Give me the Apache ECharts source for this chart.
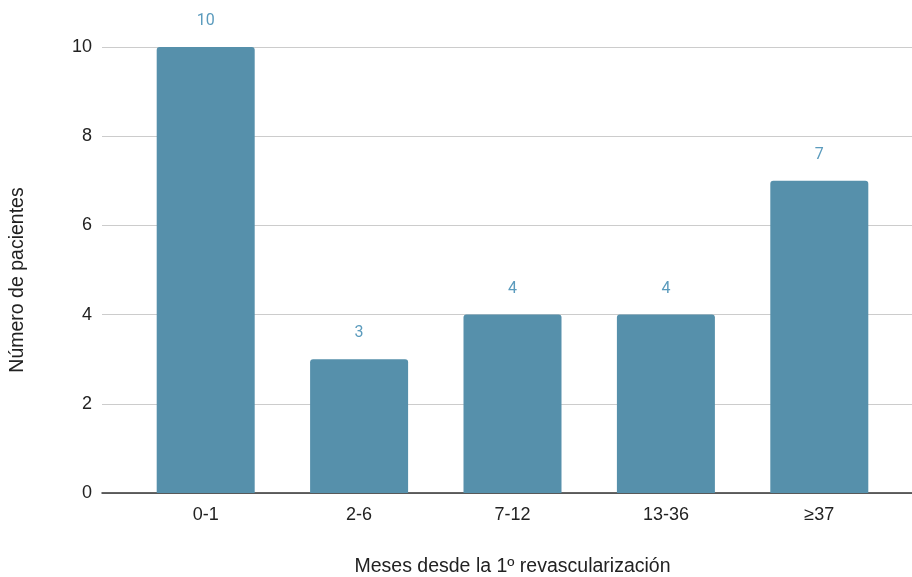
<!DOCTYPE html>
<html>
<head>
<meta charset="utf-8">
<script src="https://cdn.jsdelivr.net/npm/echarts@6/dist/echarts.min.js"></script>
<style>
  html, body { margin: 0; padding: 0; background: #ffffff; }
  #chart { width: 912px; height: 577px; }
</style>
</head>
<body>
<div id="chart"></div>
<script>
// Patients grouped by months since first revascularization
const categories = ['0-1', '2-6', '7-12', '13-36', '≥37'];
const patients = [10, 3, 4, 4, 7];
const yTicks = [0, 2, 4, 6, 8, 10];

const barColor = '#5690ab';
const labelColor = '#5b9bbd';
const font = '"Liberation Sans", Arial, sans-serif';

const chart = echarts.init(document.getElementById('chart'));
chart.setOption({
  backgroundColor: '#ffffff',
  animation: false,
  grid: [
    // bars
    { left: 129, right: 16, top: 47, bottom: 84, outerBoundsMode: 'none' },
    // gridlines, y ticks and baseline (wider than the bar area)
    { left: 102, right: 0, top: 47, bottom: 84, outerBoundsMode: 'none' }
  ],
  xAxis: [
    {
      type: 'category',
      gridIndex: 0,
      data: categories,
      axisLine: { show: false },
      axisTick: { show: false },
      axisLabel: { color: '#222222', fontSize: 18, fontFamily: font, margin: 13 },
      name: 'Meses desde la 1º revascularización',
      nameLocation: 'middle',
      nameGap: 64,
      nameTextStyle: { color: '#222222', fontSize: 19.5, fontFamily: font }
    },
    {
      type: 'value',
      gridIndex: 1,
      min: 0, max: 1,
      axisLine: { show: true, onZero: false, lineStyle: { color: '#333333', width: 1.5 } },
      axisTick: { show: false },
      axisLabel: { show: false },
      splitLine: { show: false }
    }
  ],
  yAxis: [
    {
      type: 'value',
      gridIndex: 0,
      min: yTicks[0], max: yTicks[yTicks.length - 1], interval: 2,
      axisLine: { show: false },
      axisTick: { show: false },
      axisLabel: { show: false },
      splitLine: { show: false }
    },
    {
      type: 'value',
      gridIndex: 1,
      min: yTicks[0], max: yTicks[yTicks.length - 1], interval: 2,
      axisLine: { show: false },
      axisTick: { show: false },
      axisLabel: { color: '#222222', fontSize: 18, fontFamily: font, margin: 10 },
      splitLine: { show: true, lineStyle: { color: '#cccccc', width: 1 } },
      name: 'Número de pacientes',
      nameLocation: 'middle',
      nameGap: 74,
      nameTextStyle: { color: '#222222', fontSize: 19.5, fontFamily: font, padding: [0, 20, 0, 0] }
    }
  ],
  series: [
    {
      type: 'bar',
      xAxisIndex: 0,
      yAxisIndex: 0,
      data: patients,
      barWidth: 98,
      itemStyle: { color: barColor, borderRadius: [3, 3, 0, 0] },
      label: {
        show: true,
        position: 'top',
        distance: 18,
        color: labelColor,
        fontSize: 16,
        fontFamily: 'Roboto, sans-serif'
      },
      z: 3
    }
  ]
});
</script>
</body>
</html>
